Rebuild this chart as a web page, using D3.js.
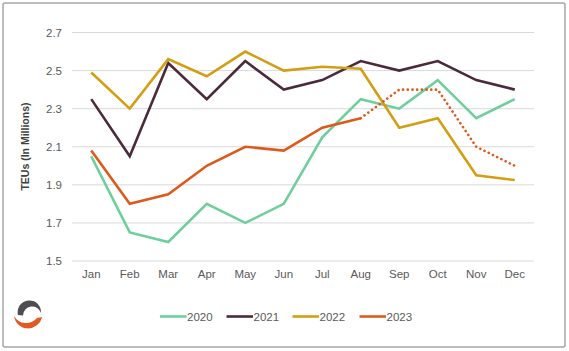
<!DOCTYPE html>
<html><head><meta charset="utf-8">
<script src="https://cdn.jsdelivr.net/npm/d3@7"></script>
<style>body{margin:0;background:#fff}svg{display:block;font-family:"Liberation Sans",Arial,sans-serif}</style>
</head><body>
<script>
const months = ["Jan","Feb","Mar","Apr","May","Jun","Jul","Aug","Sep","Oct","Nov","Dec"];
const yTicks = [1.5,1.7,1.9,2.1,2.3,2.5,2.7];
const s2020 = [2.05,1.65,1.60,1.80,1.70,1.80,2.15,2.35,2.30,2.45,2.25,2.35];
const s2021 = [2.35,2.05,2.54,2.35,2.55,2.40,2.45,2.55,2.50,2.55,2.45,2.40];
const s2022 = [2.49,2.30,2.56,2.47,2.60,2.50,2.52,2.51,2.20,2.25,1.95,1.925];
const s2023 = [2.08,1.80,1.85,2.00,2.10,2.08,2.20,2.25,null,null,null,null];
const s2023f = [null,null,null,null,null,null,null,2.25,2.40,2.40,2.10,2.00];
const seriesNames = ["2020","2021","2022","2023"];
const colors = ["#6fcf9c","#4a2a3b","#d49e14","#de5a1c"];

const W=569,H=351;
const svg=d3.select("body").append("svg").attr("width",W).attr("height",H);
svg.append("rect").attr("x",3).attr("y",3).attr("width",562).attr("height",344).attr("rx",2)
  .attr("fill","#fff").attr("stroke","#a6a6a6").attr("stroke-width",1.5);

const x=d3.scaleBand().domain(months).range([72,534]);
const y=d3.scaleLinear().domain([1.5,2.7]).range([261,32.5]);
const xc=m=>x(m)+x.bandwidth()/2;

// grid
svg.append("g").selectAll("line").data(yTicks).join("line")
  .attr("x1",72).attr("x2",534).attr("y1",d=>y(d)).attr("y2",d=>y(d))
  .attr("stroke","#d9d9d9").attr("stroke-width",1);

// y axis labels
const ya=svg.append("g").attr("transform","translate(62,0)")
  .call(d3.axisLeft(y).tickValues(yTicks).tickFormat(d3.format(".1f")).tickSize(0).tickPadding(0));
ya.select(".domain").remove();
ya.selectAll("text").attr("font-size",11.5).attr("fill","#595959").attr("font-family","Liberation Sans, Arial, sans-serif");

// x axis labels
const xa=svg.append("g").attr("transform","translate(0,270)")
  .call(d3.axisBottom(x).tickSize(0).tickPadding(0));
xa.select(".domain").remove();
xa.selectAll("text").attr("font-size",11.5).attr("fill","#595959").attr("dy","0.71em").attr("font-family","Liberation Sans, Arial, sans-serif");

// y title
svg.append("text").attr("transform","translate(29,146.5) rotate(-90)").attr("text-anchor","middle")
  .attr("font-size",10.5).attr("font-weight","bold").attr("fill","#404040").text("TEUs (In Millions)");

const line=d3.line().defined(d=>d!=null).x((d,i)=>xc(months[i])).y(d=>y(d));
const all=[s2020,s2021,s2022,s2023];
all.forEach((s,i)=>{
  svg.append("path").datum(s).attr("d",line).attr("fill","none").attr("stroke",colors[i])
    .attr("stroke-width",2.6).attr("stroke-linejoin","miter");
});
svg.append("path").datum(s2023f).attr("d",line).attr("fill","none").attr("stroke",colors[3])
  .attr("stroke-width",2.6).attr("stroke-dasharray","0.1 4.6").attr("stroke-linecap","round");

// legend
const legX=[160,226.5,292.5,359.5];
const lg=svg.append("g");
seriesNames.forEach((n,i)=>{
  lg.append("line").attr("x1",legX[i]).attr("x2",legX[i]+26.5).attr("y1",316.5).attr("y2",316.5)
    .attr("stroke",colors[i]).attr("stroke-width",2.6);
  lg.append("text").attr("x",legX[i]+27).attr("y",316.5).attr("dy","0.35em").attr("font-size",11.5)
    .attr("fill","#595959").text(n);
});

// logo (swirl)
svg.append("path").attr("d","M18,315 A11.7,11.7 0 1 1 41,313 A9.2,9.2 0 0 0 23,315.5 Z").attr("fill","#4d4d52");
svg.append("path").attr("d","M14,316 A14.2,14.2 0 0 0 42,317 L37,318 A14,14 0 0 1 14,316 Z").attr("fill","#e05a22");
</script>
</body></html>
